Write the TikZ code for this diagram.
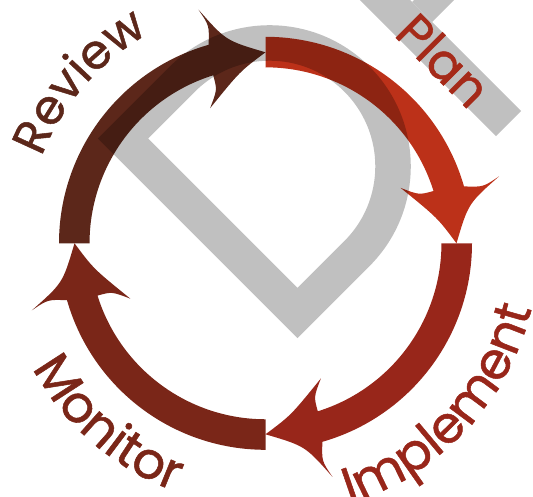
\documentclass[tikz,border=0pt]{standalone}
\usepackage{fontspec}
\newfontfamily\labelfont{Poppins}[FakeBold=1.0]
\usetikzlibrary{decorations.text}

\definecolor{planc}{RGB}{188,49,25}
\definecolor{implc}{RGB}{152,38,26}
\definecolor{monc}{RGB}{122,38,24}
\definecolor{revc}{RGB}{92,39,26}
\definecolor{plantext}{RGB}{165,42,25}
\definecolor{logogray}{RGB}{192,192,192}

\tikzset{
  logostroke/.style={draw=logogray, line width=35.5pt, line join=miter},
  arrowbody/.style={blend mode=multiply},
  arclabel/.style={decorate, decoration={text along path, text align=center, text={#1}}}
}

% one curved arrow of the cycle; #1 = rotation about the centre, #2 = colour
\newcommand\cyclearrow[2]{%
  \begin{scope}[shift={(C)}, rotate=#1]
    \fill[#2, arrowbody] (90:176) -- (90:206.5)
      arc[start angle=90, end angle=16, radius=206.5]
      .. controls (217.7,56.2) .. (233.6,67.0)
      .. controls (202.7,39.7) .. (191,0)
      .. controls (172,25.5) .. (135.1,55.4)
      .. controls (153.6,48.3) .. (168.0,52.3)
      arc[start angle=17.3, end angle=90, radius=176] -- cycle;
  \end{scope}}

\begin{document}
\begin{tikzpicture}[x=1pt, y=1pt]
  \useasboundingbox (0,0) rectangle (533,496);
  \clip (0,0) rectangle (533,496);
  \coordinate (C) at (265.5,252.7);

  % grey logo behind the cycle
  \draw[logostroke] (123,357.5) -- (297.5,183) -- (356.9,242.4)
    arc[start angle=-45, end angle=135, radius=123.4] -- cycle;
  \draw[logostroke, line cap=butt] (354.9,526) -- (508.5,372.4);
  \fill[logogray] (432,474) -- (412,494) -- (434,516) -- (474,516) -- cycle;

  % the four arrows
  \cyclearrow{0}{planc}
  \cyclearrow{-90}{implc}
  \cyclearrow{-180}{monc}
  \cyclearrow{-270}{revc}

  % labels
  \node[rotate=-45, anchor=base, text=plantext,
        font=\labelfont\fontsize{50pt}{56pt}\selectfont] (plan) at (431,423) {Plan};
  \path[arclabel={|\labelfont\fontsize{51pt}{60pt}\selectfont\color{implc}|Implement}]
    (C) ++(-83:274) arc[start angle=-83, end angle=-3, radius=274];
  \path[arclabel={|\labelfont\fontsize{51pt}{60pt}\selectfont\color{monc}|Monitor}]
    (C) ++(189:264) arc[start angle=189, end angle=269, radius=264];
  \path[arclabel={|\labelfont\fontsize{48pt}{56pt}\selectfont\color{revc}|Review}]
    (C) ++(179:240) arc[start angle=179, end angle=99, radius=240];
\end{tikzpicture}
\end{document}
